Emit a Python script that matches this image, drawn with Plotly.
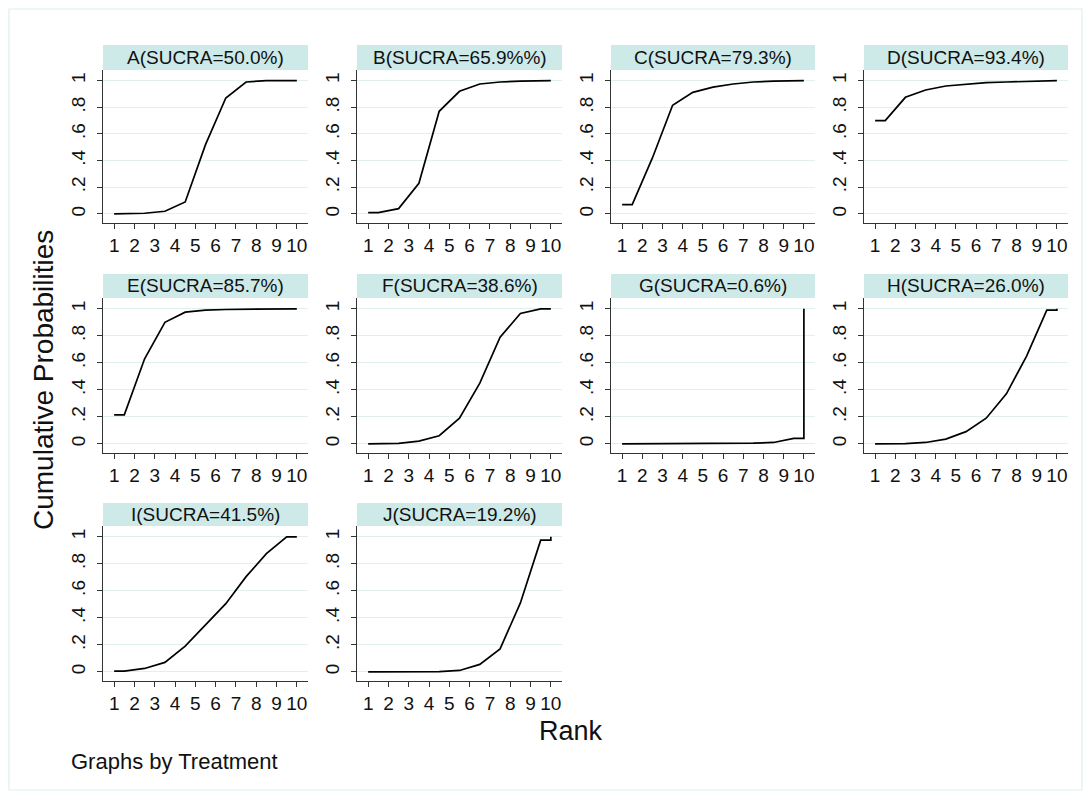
import plotly.graph_objects as go

OFF = 8  # page body margin of the browser
W, H = 1092 - 2 * OFF, 799 - 2 * OFF

treatments = ["A", "B", "C", "D", "E", "F", "G", "H", "I", "J"]
sucra_labels = ["A(SUCRA=50.0%)", "B(SUCRA=65.9%%)", "C(SUCRA=79.3%)", "D(SUCRA=93.4%)",
                "E(SUCRA=85.7%)", "F(SUCRA=38.6%)", "G(SUCRA=0.6%)", "H(SUCRA=26.0%)",
                "I(SUCRA=41.5%)", "J(SUCRA=19.2%)"]

ranks = [1, 2, 3, 4, 5, 6, 7, 8, 9, 10]

# cumulative probability of being ranked k or better (k = 1..10)
cum_A = [0.000, 0.005, 0.020, 0.090, 0.520, 0.870, 0.990, 1.000, 1.000, 1.000]
cum_B = [0.010, 0.040, 0.230, 0.770, 0.920, 0.975, 0.990, 0.997, 1.000, 1.000]
cum_C = [0.070, 0.420, 0.815, 0.912, 0.952, 0.975, 0.990, 0.996, 1.000, 1.000]
cum_D = [0.700, 0.875, 0.930, 0.960, 0.975, 0.985, 0.990, 0.995, 1.000, 1.000]
cum_E = [0.215, 0.630, 0.900, 0.975, 0.990, 0.995, 0.997, 0.999, 1.000, 1.000]
cum_F = [0.000, 0.003, 0.020, 0.060, 0.190, 0.450, 0.790, 0.965, 1.000, 1.000]
cum_G = [0.000, 0.000, 0.000, 0.000, 0.000, 0.002, 0.005, 0.010, 0.040, 1.000]
cum_H = [0.000, 0.001, 0.010, 0.035, 0.090, 0.190, 0.370, 0.650, 0.990, 1.000]
cum_I = [0.005, 0.025, 0.070, 0.190, 0.345, 0.505, 0.705, 0.875, 1.000, 1.000]
cum_J = [0.000, 0.000, 0.000, 0.001, 0.010, 0.055, 0.170, 0.510, 0.975, 1.000]

all_cum = [cum_A, cum_B, cum_C, cum_D, cum_E, cum_F, cum_G, cum_H, cum_I, cum_J]

y_tickvals = [0, 0.2, 0.4, 0.6, 0.8, 1]
y_ticktext = ["0", ".2", ".4", ".6", ".8", "1"]

# panel geometry in window pixels
col_x = [(103, 308), (357, 562), (611, 815), (864, 1068)]
row_y = [(45, 70, 223), (274, 298, 453), (503, 526, 681)]  # strip top, plot top, plot bottom

FONT = "Liberation Sans, Arial, sans-serif"
STRIP = "#cdeae8"
GRID = "#dff0ef"
AXC = "#333333"


def px(x):
    return (x - OFF) / W


def py(y):
    return 1 - (y - OFF) / H


def stata_path(cum):
    # Stata-like cumulative rank path: value k drawn at rank k+0.5, flat start and end
    xs = [ranks[0]] + [r + 0.5 for r in ranks[:-1]] + [ranks[-1], ranks[-1]]
    ys = [cum[0]] + cum[:-1] + [cum[-2], cum[-1]]
    return xs, ys


fig = go.Figure()
shapes = []
annotations = []

for i, (name, cum) in enumerate(zip(treatments, all_cum)):
    r, c = divmod(i, 4)
    x0, x1 = col_x[c]
    st, pt, pb = row_y[r]
    ax = "" if i == 0 else str(i + 1)
    xs, ys = stata_path(cum)
    fig.add_trace(go.Scatter(x=xs, y=ys, mode="lines", line=dict(color="black", width=1.7),
                             xaxis="x" + ax, yaxis="y" + ax, showlegend=False, hoverinfo="skip"))
    fig.layout["xaxis" + ax] = dict(
        domain=[px(x0), px(x1)], anchor="y" + ax, range=[0.45, 10.55],
        tickvals=ranks, ticktext=[str(v) for v in ranks], ticks="outside", ticklen=5,
        tickcolor=AXC, showline=True, linecolor=AXC, linewidth=1.2, showgrid=False,
        zeroline=False, ticklabelstandoff=0,
        tickfont=dict(family=FONT, size=19, color="#111"), fixedrange=True)
    fig.layout["yaxis" + ax] = dict(
        domain=[py(pb), py(pt)], anchor="x" + ax, range=[-0.068, 1.08],
        tickvals=y_tickvals, ticktext=y_ticktext, ticks="outside", ticklen=5, tickangle=-90,
        tickcolor=AXC, showline=True, linecolor=AXC, linewidth=1.2, showgrid=True,
        gridcolor=GRID, gridwidth=1.2, zeroline=False, ticklabelstandoff=4,
        tickfont=dict(family=FONT, size=19, color="#111"), fixedrange=True)
    shapes.append(dict(type="rect", xref="paper", yref="paper", x0=px(x0), x1=px(x1),
                       y0=py(pt), y1=py(st), fillcolor=STRIP, line=dict(width=0),
                       layer="below"))
    annotations.append(dict(text=sucra_labels[i], xref="paper", yref="paper",
                            x=px((x0 + x1) / 2), y=py((st + pt) / 2), showarrow=False,
                            xanchor="center", yanchor="middle",
                            font=dict(family=FONT, size=19, color="#111")))

# outer border
shapes.append(dict(type="rect", xref="paper", yref="paper", x0=px(9), x1=px(1082),
                   y0=py(790), y1=py(9), line=dict(color="#dcefee", width=1.2),
                   fillcolor="rgba(0,0,0,0)"))

annotations.append(dict(text="Cumulative Probabilities", xref="paper", yref="paper",
                        x=px(43), y=py(380), showarrow=False, textangle=-90,
                        xanchor="center", yanchor="middle",
                        font=dict(family=FONT, size=28, color="#111")))
annotations.append(dict(text="Rank", xref="paper", yref="paper", x=px(571), y=py(731),
                        showarrow=False, xanchor="center", yanchor="middle",
                        font=dict(family=FONT, size=27, color="#111")))
annotations.append(dict(text="Graphs by Treatment", xref="paper", yref="paper", x=px(69),
                        y=py(761), showarrow=False, xanchor="left", yanchor="middle",
                        font=dict(family=FONT, size=22, color="#111")))

fig.update_layout(width=W, height=H, margin=dict(l=0, r=0, t=0, b=0),
                  paper_bgcolor="white", plot_bgcolor="white",
                  shapes=shapes, annotations=annotations, showlegend=False)

fig.write_html("out.html", config={"displayModeBar": False})
